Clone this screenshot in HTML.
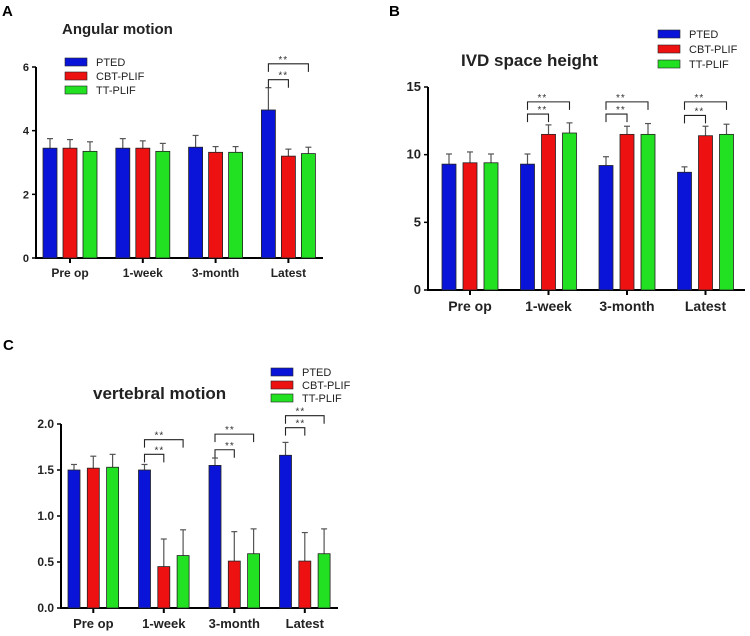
<!DOCTYPE html>
<html><head><meta charset="utf-8"><style>
body{margin:0;background:#fff;width:750px;height:636px;overflow:hidden;font-family:"Liberation Sans",Arial,sans-serif}
svg{position:absolute;left:0;top:0}
</style></head><body>
<svg id="s" width="750" height="636"></svg>
<script>
const categories=["Pre op","1-week","3-month","Latest"];
const seriesNames=["PTED","CBT-PLIF","TT-PLIF"];
const aPted=[3.45,3.45,3.48,4.65], aPtedErr=[3.75,3.75,3.85,5.35];
const aCbt=[3.45,3.45,3.32,3.2], aCbtErr=[3.72,3.68,3.5,3.42];
const aTt=[3.35,3.35,3.32,3.28], aTtErr=[3.65,3.6,3.5,3.48];
const aTicks=[0,2,4,6];
const aSig=[[3,1,5.6],[3,2,6.1]];
const bPted=[9.3,9.3,9.2,8.7], bPtedErr=[10.05,10.05,9.85,9.1];
const bCbt=[9.4,11.5,11.5,11.4], bCbtErr=[10.2,12.2,12.1,12.1];
const bTt=[9.4,11.6,11.5,11.5], bTtErr=[10.05,12.35,12.3,12.25];
const bTicks=[0,5,10,15];
const bSig=[[1,1,13.0],[1,2,13.9],[2,1,13.0],[2,2,13.9],[3,1,12.9],[3,2,13.9]];
const cPted=[1.5,1.5,1.55,1.66], cPtedErr=[1.56,1.56,1.63,1.8];
const cCbt=[1.52,0.45,0.51,0.51], cCbtErr=[1.65,0.75,0.83,0.82];
const cTt=[1.53,0.57,0.59,0.59], cTtErr=[1.67,0.85,0.86,0.86];
const cTicks=["0.0","0.5","1.0","1.5","2.0"];
const cSig=[[1,1,1.67],[1,2,1.83],[2,1,1.72],[2,2,1.89],[3,1,1.96],[3,2,2.09]];
const colors=["#0a14d8","#ee1111","#22e022"];
const NS="http://www.w3.org/2000/svg";
const svg=document.getElementById('s');
function el(t,a,txt){const e=document.createElementNS(NS,t);for(const k in a)e.setAttribute(k,a[k]);if(txt!=null)e.textContent=txt;svg.appendChild(e);return e;}
function chart(o){
  const y=v=>o.y0-(v/o.ymax)*(o.y0-o.yTop);
  const gx=(g,s)=>o.x1+g*o.gs+s*o.step;
  // axes
  let e=el('line',{x1:o.ax,y1:o.y0,x2:o.axEnd,y2:o.y0,stroke:'#000','stroke-width':2});
  
  e=el('line',{x1:o.ax,y1:o.y0+1,x2:o.ax,y2:o.yTop,stroke:'#000','stroke-width':2});
  
  o.ticks.forEach(t=>{const v=parseFloat(t);
    el('line',{x1:o.ax-4,y1:y(v),x2:o.ax,y2:y(v),stroke:'#000','stroke-width':1.5});
    e=el('text',{x:o.ax-7,y:y(v)+4,'text-anchor':'end','font-size':o.fs,'font-weight':'bold',fill:'#222'},t);
    
  });
  categories.forEach((c,g)=>{const cx=gx(g,1)+o.bw/2;
    el('line',{x1:cx,y1:o.y0,x2:cx,y2:o.y0+5,stroke:'#000','stroke-width':2});
    e=el('text',{x:cx,y:o.y0+o.fs+8,'text-anchor':'middle','font-size':o.fs+1,'font-weight':'bold',fill:'#222'},c);
    
  });
  o.vals.forEach((vs,s)=>vs.forEach((v,g)=>{const x=gx(g,s),cx=x+o.bw/2;
    el('line',{x1:cx,y1:y(v),x2:cx,y2:y(o.errs[s][g]),stroke:'#555','stroke-width':1.2});
    el('line',{x1:cx-3,y1:y(o.errs[s][g]),x2:cx+3,y2:y(o.errs[s][g]),stroke:'#555','stroke-width':1.2});
    e=el('rect',{x:x,y:y(v),width:o.bw,height:o.y0-y(v),fill:colors[s],stroke:'#222','stroke-width':0.8});
    
  }));
  o.sig.forEach(([g,s,v])=>{const xa=gx(g,0)+o.bw/2,xb=gx(g,s)+o.bw/2,yy=y(v);
    e=el('path',{d:`M${xa},${yy+8}V${yy}H${xb}V${yy+8}`,fill:'none',stroke:'#222','stroke-width':1.1});
    
    el('text',{x:xa+10,y:yy-1,'font-size':10,fill:'#333','letter-spacing':'1'},'**');
  });
  e=el('text',{x:o.tx,y:o.ty,'font-size':o.tfs,'font-weight':'bold',fill:'#222'},o.title);
  
  e=el('text',{x:o.px,y:o.py,'font-size':15,'font-weight':'bold',fill:'#000'},o.panel);
  
  seriesNames.forEach((n,i)=>{const ly=o.ly+i*o.lstep;
    e=el('rect',{x:o.lx,y:ly-4,width:22,height:8,fill:colors[i],stroke:'#222','stroke-width':0.6});
    
    e=el('text',{x:o.lx+31,y:ly+4,'font-size':11,fill:'#222'},n);
    
  });
}
chart({id:'angular',panel:'A',px:2,py:16,title:'Angular motion',tx:62,ty:34,tfs:15,ax:36,axEnd:323,y0:258,yTop:67,ymax:6,
  ticks:aTicks.map(String),fs:11,x1:43,gs:72.8,step:20,bw:14,vals:[aPted,aCbt,aTt],errs:[aPtedErr,aCbtErr,aTtErr],sig:aSig,lx:65,ly:62,lstep:14});
chart({id:'ivd',panel:'B',px:389,py:16,title:'IVD space height',tx:461,ty:66,tfs:17,ax:428,axEnd:745,y0:290,yTop:87,ymax:15,
  ticks:bTicks.map(String),fs:13,x1:442,gs:78.5,step:21,bw:14,vals:[bPted,bCbt,bTt],errs:[bPtedErr,bCbtErr,bTtErr],sig:bSig,lx:658,ly:34,lstep:15});
chart({id:'vertebral',panel:'C',px:3,py:350,title:'vertebral motion',tx:93,ty:399,tfs:17,ax:61,axEnd:338,y0:608,yTop:424,ymax:2,
  ticks:cTicks,fs:12,x1:68,gs:70.5,step:19.3,bw:12,vals:[cPted,cCbt,cTt],errs:[cPtedErr,cCbtErr,cTtErr],sig:cSig,lx:271,ly:372,lstep:13});
</script>
</body></html>
